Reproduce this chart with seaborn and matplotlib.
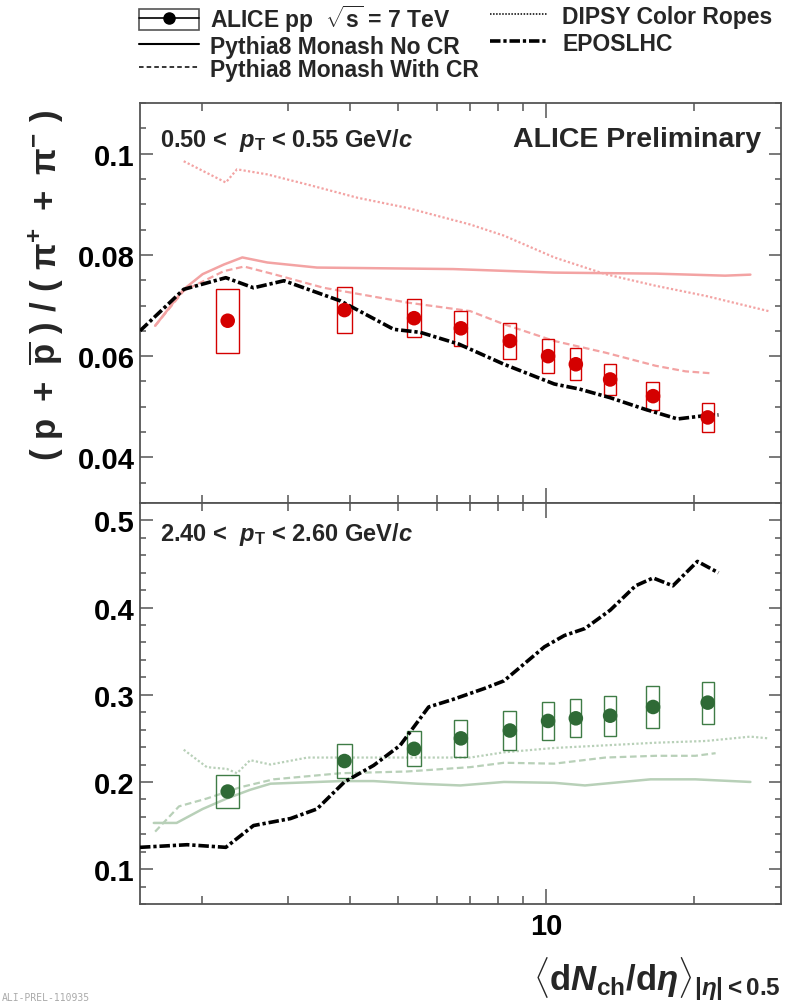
import numpy as np
import matplotlib
matplotlib.use("Agg")
import matplotlib.pyplot as plt
import seaborn as sns
from matplotlib.ticker import FixedLocator, NullFormatter, FuncFormatter
from matplotlib.lines import Line2D
from matplotlib.patches import Rectangle

# ---------------- data ----------------
dndeta = [2.26, 3.90, 5.40, 6.72, 8.45, 10.1, 11.5, 13.5, 16.5, 21.3]
dndeta_err = [0.12, 0.14, 0.17, 0.21, 0.25, 0.30, 0.30, 0.40, 0.50, 0.60]

ratio_low = [0.0670, 0.0691, 0.0675, 0.0655, 0.0630, 0.0600, 0.0584, 0.0554, 0.0521, 0.0479]
sys_low = [0.0063, 0.0045, 0.0038, 0.0035, 0.0035, 0.0033, 0.0032, 0.0031, 0.0028, 0.0028]
ratio_high = [0.189, 0.224, 0.238, 0.250, 0.259, 0.270, 0.273, 0.276, 0.286, 0.291]
sys_high = [0.019, 0.020, 0.020, 0.021, 0.022, 0.022, 0.022, 0.023, 0.024, 0.024]

nocr_low_x = [1.61, 1.84, 2.01, 2.22, 2.42, 2.72, 3.43, 6.49, 10.4, 16.7, 23.1, 26.0]
nocr_low_y = [0.0660, 0.0732, 0.0762, 0.0781, 0.0795, 0.0785, 0.0775, 0.0772, 0.0765, 0.0763, 0.0759, 0.0761]
cr_low_x = [1.61, 1.84, 2.22, 2.44, 2.80, 3.54, 5.22, 7.02, 8.22, 10.4, 13.2, 16.7, 19.2, 21.8]
cr_low_y = [0.0660, 0.0729, 0.0768, 0.0777, 0.0762, 0.0735, 0.0706, 0.0689, 0.0663, 0.0630, 0.0607, 0.0581, 0.0570, 0.0566]
dipsy_low_x = [1.84, 2.24, 2.36, 2.72, 3.28, 4.14, 5.22, 7.02, 8.22, 10.4, 13.2, 16.7, 21.1, 28.3]
dipsy_low_y = [0.0985, 0.0943, 0.0969, 0.0959, 0.0939, 0.0913, 0.0893, 0.0860, 0.0838, 0.0795, 0.0762, 0.0739, 0.0719, 0.0689]
epos_low_x = [1.50, 1.84, 2.24, 2.55, 2.94, 3.83, 4.91, 5.56, 6.65, 8.22, 10.4, 11.7, 13.5, 15.9, 18.5, 20.8, 22.4]
epos_low_y = [0.0650, 0.0732, 0.0755, 0.0735, 0.0749, 0.0709, 0.0653, 0.0647, 0.0624, 0.0584, 0.0545, 0.0535, 0.0518, 0.0495, 0.0476, 0.0482, 0.0484]

nocr_high_x = [1.60, 1.78, 2.01, 2.25, 2.51, 2.76, 3.83, 4.47, 5.48, 6.70, 8.22, 10.4, 12.0, 16.3, 20.1, 26.0]
nocr_high_y = [0.153, 0.153, 0.169, 0.181, 0.191, 0.198, 0.201, 0.201, 0.198, 0.196, 0.200, 0.199, 0.196, 0.203, 0.203, 0.200]
cr_high_x = [1.61, 1.80, 2.05, 2.40, 2.80, 3.83, 5.22, 7.02, 8.22, 10.4, 13.2, 16.7, 20.1, 22.1]
cr_high_y = [0.143, 0.172, 0.181, 0.194, 0.203, 0.210, 0.212, 0.217, 0.222, 0.221, 0.228, 0.230, 0.230, 0.233]
dipsy_high_x = [1.84, 2.05, 2.25, 2.36, 2.51, 2.76, 3.28, 7.02, 8.22, 10.4, 13.2, 16.7, 21.1, 26.0, 28.3]
dipsy_high_y = [0.237, 0.217, 0.215, 0.210, 0.225, 0.220, 0.228, 0.228, 0.234, 0.239, 0.242, 0.245, 0.247, 0.252, 0.250]
epos_high_x = [1.50, 1.87, 2.24, 2.55, 3.03, 3.43, 3.90, 4.47, 5.06, 5.78, 6.50, 7.48, 8.22, 9.93, 10.9, 12.0, 13.5, 15.2, 16.5, 18.1, 20.3, 22.4]
epos_high_y = [0.125, 0.128, 0.125, 0.150, 0.158, 0.169, 0.200, 0.219, 0.242, 0.286, 0.295, 0.307, 0.316, 0.355, 0.368, 0.376, 0.397, 0.425, 0.434, 0.425, 0.453, 0.440]

legend_labels_left = ["ALICE pp  $\\sqrt{\\mathbf{s}}$ = 7 TeV", "Pythia8 Monash No CR", "Pythia8 Monash With CR"]
legend_labels_right = ["DIPSY Color Ropes", "EPOSLHC"]

# ---------------- style ----------------
sns.set_theme(style="ticks")
plt.rcParams["font.family"] = ["Liberation Sans", "DejaVu Sans"]
plt.rcParams["font.weight"] = "bold"
plt.rcParams["mathtext.fontset"] = "custom"
plt.rcParams["mathtext.rm"] = "Liberation Sans:bold"
plt.rcParams["mathtext.bf"] = "Liberation Sans:bold"
plt.rcParams["mathtext.sf"] = "Liberation Sans:bold"
plt.rcParams["mathtext.it"] = "Liberation Sans:italic:bold"
plt.rcParams["mathtext.bfit"] = "Liberation Sans:italic:bold"

RED = "#d40000"
RED_M = "#f3a3a3"
GREEN = "#2f6a36"
GREEN_M = "#b8d0b8"
GREEN_BOX = "#3f7c46"
FRAME = "#555555"

EPOS_LS = (0, (2.9, 0.8, 0.9, 0.8))
DASH_LS = (0, (3.0, 1.6))
DOT_LS = (0, (1.0, 1.0))

fig = plt.figure(figsize=(7.9, 10.04), dpi=100)
ax1 = fig.add_axes([140 / 790, 1 - 504 / 1004, 641 / 790, 400 / 1004])
ax2 = fig.add_axes([140 / 790, 1 - 905 / 1004, 641 / 790, 401 / 1004])

for ax in (ax1, ax2):
    ax.set_xscale("log")


def draw_panel(ax, ratio, syst, col, colm, colbox, nx, ny, cx, cy, dx, dy, ex, ey):
    sns.lineplot(x=dx, y=dy, ax=ax, color=colm, lw=1.6, linestyle=DOT_LS,
                 sort=False, estimator=None, errorbar=None, zorder=2)
    sns.lineplot(x=cx, y=cy, ax=ax, color=colm, lw=1.6, linestyle=DASH_LS,
                 sort=False, estimator=None, errorbar=None, zorder=2)
    sns.lineplot(x=nx, y=ny, ax=ax, color=colm, lw=1.8, linestyle="-",
                 sort=False, estimator=None, errorbar=None, zorder=2)
    x = np.array(dndeta)
    xe = np.array(dndeta_err)
    r = np.array(ratio)
    s = np.array(syst)
    ax.bar(x - xe, 2 * s, width=2 * xe, bottom=r - s, align="edge",
           fill=False, edgecolor=colbox, linewidth=1.0, zorder=3)
    sns.lineplot(x=ex, y=ey, ax=ax, color="black", lw=2.6, linestyle=EPOS_LS,
                 sort=False, estimator=None, errorbar=None, zorder=4)
    sns.scatterplot(x=dndeta, y=ratio, ax=ax, color=col, s=110,
                    edgecolor="none", linewidth=0, zorder=5)


draw_panel(ax1, ratio_low, sys_low, RED, RED_M, RED,
           nocr_low_x, nocr_low_y, cr_low_x, cr_low_y,
           dipsy_low_x, dipsy_low_y, epos_low_x, epos_low_y)
draw_panel(ax2, ratio_high, sys_high, GREEN, GREEN_M, GREEN_BOX,
           nocr_high_x, nocr_high_y, cr_high_x, cr_high_y,
           dipsy_high_x, dipsy_high_y, epos_high_x, epos_high_y)

ax1.set_ylim(0.031, 0.110)
ax2.set_ylim(0.060, 0.520)
ax1.yaxis.set_major_locator(FixedLocator([0.04, 0.06, 0.08, 0.10]))
ax1.yaxis.set_minor_locator(FixedLocator(np.arange(0.035, 0.1101, 0.005)))
ax2.yaxis.set_major_locator(FixedLocator([0.1, 0.2, 0.3, 0.4, 0.5]))
ax2.yaxis.set_minor_locator(FixedLocator(np.arange(0.06, 0.521, 0.02)))

fmt = FuncFormatter(lambda v, p: f"{v:g}")
for ax in (ax1, ax2):
    ax.set_xlim(1.5, 30)
    ax.xaxis.set_major_locator(FixedLocator([10]))
    ax.xaxis.set_minor_locator(FixedLocator([2, 3, 4, 5, 6, 7, 8, 9, 20]))
    ax.xaxis.set_major_formatter(fmt)
    ax.xaxis.set_minor_formatter(NullFormatter())
    ax.yaxis.set_major_formatter(fmt)
    ax.yaxis.set_minor_formatter(NullFormatter())
    ax.set_xlabel("")
    ax.set_ylabel("")
    ax.tick_params(which="both", direction="in", top=True, right=True,
                   color=FRAME, width=1.1, labelcolor="black", labelsize=21)
    ax.tick_params(axis="x", which="major", length=11, pad=6)
    ax.tick_params(axis="x", which="minor", length=6)
    ax.tick_params(axis="y", which="major", length=9, pad=4)
    ax.tick_params(axis="y", which="minor", length=4.5)
    for sp in ax.spines.values():
        sp.set_color(FRAME)
        sp.set_linewidth(1.3)
        sp.set_visible(True)
    for lab in ax.get_xticklabels() + ax.get_yticklabels():
        lab.set_fontweight("bold")
ax1.tick_params(axis="x", labelbottom=False)

# panel texts
ax1.text(0.031, 0.91, "0.50 <  $\\mathbfit{p}_{\\mathbf{T}}$ < 0.55 GeV/$\\mathbfit{c}$",
         transform=ax1.transAxes, ha="left", va="center", fontsize=17, fontweight="bold")
ax1.text(0.969, 0.91, "ALICE Preliminary", transform=ax1.transAxes,
         ha="right", va="center", fontsize=20.5, fontweight="bold")
ax2.text(0.031, 0.923, "2.40 <  $\\mathbfit{p}_{\\mathbf{T}}$ < 2.60 GeV/$\\mathbfit{c}$",
         transform=ax2.transAxes, ha="left", va="center", fontsize=17, fontweight="bold")

# axis titles
fig.text(46 / 790, 1 - 285 / 1004,
         "$\\mathbf{(\\ p\\ +\\ \\overline{p}\\ )\\ /\\ (\\ \\pi^{+}\\ +\\ \\pi^{-}\\ )}$",
         rotation=90, ha="center", va="center", fontsize=25)
fig.text(781 / 790, 1 - 1003 / 1004,
         "$\\langle\\mathbf{d}\\mathbfit{N}_{\\mathbf{ch}}\\mathbf{/d}\\eta\\rangle_{|\\eta|\\mathbf{<0.5}}$",
         ha="right", va="bottom", fontsize=25)
fig.text(0.002, 0.001, "ALI-PREL-110935", ha="left", va="bottom",
         fontsize=7, color="#aaaaaa", family="DejaVu Sans Mono", fontweight="normal")

# legends
h_alice = (Rectangle((0, 0), 1, 1, fill=False, edgecolor=FRAME, linewidth=1.2),
           Line2D([], [], color="black", marker="o", markersize=8, lw=1.2))
h_nocr = Line2D([], [], color="black", lw=1.5)
h_cr = Line2D([], [], color="black", lw=1.1, linestyle=(0, (3, 2)))
h_dipsy = Line2D([], [], color="black", lw=1.1, linestyle=(0, (1, 1)))
h_epos = Line2D([], [], color="black", lw=2.6, linestyle=EPOS_LS)

common = dict(frameon=False, prop={"size": 16.5, "weight": "bold"}, handlelength=2.6,
              handletextpad=0.48, labelspacing=0.02, borderaxespad=0, borderpad=0,
              loc="upper left", handleheight=1.0)
fig.legend([h_alice, h_nocr, h_cr], legend_labels_left,
           bbox_to_anchor=(139 / 790, 1 - 4 / 1004), **common)
common["handlelength"] = 2.5
common["handletextpad"] = 0.65
common["labelspacing"] = 0.16
fig.legend([h_dipsy, h_epos], legend_labels_right,
           bbox_to_anchor=(490 / 790, 1 - 6 / 1004), **common)

fig.savefig("out.png", dpi=100)
